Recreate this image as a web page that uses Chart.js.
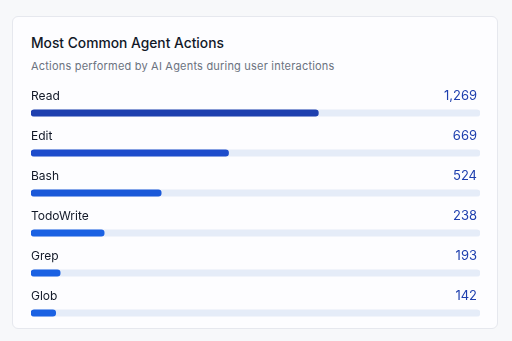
<!DOCTYPE html>
<html>
<head>
<meta charset="utf-8">
<script src="https://cdn.jsdelivr.net/npm/chart.js@4/dist/chart.umd.min.js"></script>
<style>
  html, body { margin: 0; padding: 0; width: 512px; height: 341px; background: #f7f8fa; overflow: hidden; font-family: Inter, "Open Sans", sans-serif; }
  .card { position: absolute; left: 12px; top: 16px; width: 486px; height: 313px; background: #fdfdff; border: 1px solid #e6e8ee; border-radius: 6px; box-sizing: border-box; }
  .title { position: absolute; left: 31px; top: 35px; font-size: 13.8px; font-weight: 500; color: #111827; white-space: nowrap; }
  .subtitle { position: absolute; left: 31px; top: 59px; font-size: 11px; font-weight: 400; color: #6b7280; letter-spacing: 0.2px; white-space: nowrap; }
  canvas { position: absolute; left: 0; top: 0; }
</style>
</head>
<body>
<div class="card"></div>
<div class="title">Most Common Agent Actions</div>
<div class="subtitle">Actions performed by AI Agents during user interactions</div>
<canvas id="c" width="512" height="341"></canvas>
<script>
const categories = ["Read", "Edit", "Bash", "TodoWrite", "Grep", "Glob"];
const counts = [1269, 669, 524, 238, 193, 142];
// bar fill share (percent of track) as drawn in the picture
const barShare = [64, 44, 29, 16.3, 6.5, 5.5];
const trackMax = [100, 100, 100, 100, 100, 100];
const barColors = ["#1e40af", "#1d4ccc", "#1b59d9", "#1a61e3", "#1a61e3", "#1a61e3"];

const labelPlugin = {
  id: 'rowLabels',
  afterDatasetsDraw(chart) {
    const ctx = chart.ctx;
    const y = chart.scales.y;
    const area = chart.chartArea;
    ctx.save();
    ctx.textBaseline = 'middle';
    categories.forEach((cat, i) => {
      const cy = y.getPixelForValue(i) - 16.5;
      ctx.font = '400 12px Inter, "Open Sans", sans-serif';
      ctx.fillStyle = '#111827';
      ctx.textAlign = 'left';
      ctx.fillText(cat, area.left, cy);
      ctx.font = '400 13px Inter, "Open Sans", sans-serif';
      ctx.fillStyle = '#1e3fae';
      ctx.textAlign = 'right';
      ctx.fillText(counts[i].toLocaleString('en-US'), area.right - 3, cy);
    });
    ctx.restore();
  }
};

new Chart(document.getElementById('c'), {
  type: 'bar',
  data: {
    labels: categories,
    datasets: [
      { data: barShare, backgroundColor: barColors, borderRadius: 4, borderSkipped: false, barThickness: 6.5, order: 0 },
      { data: trackMax, backgroundColor: '#e5ecf8', borderRadius: 4, borderSkipped: false, barThickness: 6.5, order: 1 }
    ]
  },
  options: {
    indexAxis: 'y',
    responsive: false,
    animation: false,
    layout: { padding: { left: 31, right: 32, top: 93, bottom: 8 } },
    datasets: { bar: { grouped: false } },
    scales: {
      x: { display: false, min: 0, max: 100 },
      y: { display: false, offset: true }
    },
    plugins: { legend: { display: false }, tooltip: { enabled: false }, title: { display: false } }
  },
  plugins: [labelPlugin]
});
</script>
</body>
</html>
